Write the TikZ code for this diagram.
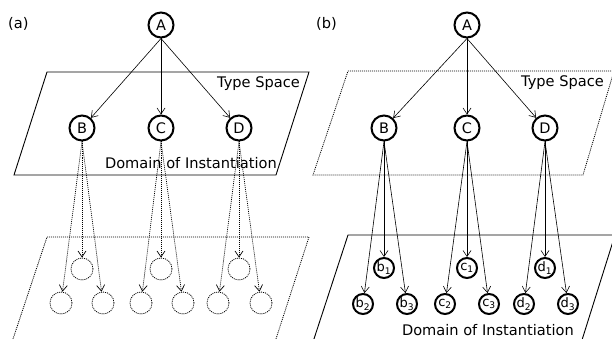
\documentclass[tikz,border=0pt]{standalone}
\usepackage{fontspec}
\setmainfont{DejaVu Sans}
\usetikzlibrary{arrows.meta}
\tikzset{
  bignode/.style={circle,draw,line width=2pt,minimum size=25pt,inner sep=0pt,font=\fontsize{14.5}{14.5}\selectfont},
  smallnode/.style={circle,draw,line width=2pt,minimum size=20pt,inner sep=0pt,font=\fontsize{13}{13}\selectfont},
  densedot/.style={dash pattern=on 1pt off 1pt},
  ghost/.style={circle,draw,densedot,line width=0.8pt,minimum size=22pt,inner sep=0pt},
  arr/.style={-{Straight Barb[length=6pt,width=8pt]},line width=0.6pt},
  dotarr/.style={arr,densedot,line width=0.7pt},
  plane/.style={line width=0.9pt,line join=miter},
  dotplane/.style={line width=0.8pt,densedot},
  lab/.style={font=\fontsize{14.6}{15}\selectfont,inner sep=0pt},
}
\begin{document}
\begin{tikzpicture}[x=1pt,y=-1pt]
\useasboundingbox (0,0) rectangle (612,339);
\clip (0,0) rectangle (612,339);
% ---------- panel (a) ----------
\node[lab,anchor=base west] (la) at (8,29) {(a)};
\draw[plane] (47,72) -- (309,72) -- (276,175) -- (14,175) -- cycle;
\draw[dotplane] (11,345) -- (47,237) -- (309,237) -- (274,345);
\node[lab,anchor=base east] (tsa) at (300,88) {Type Space};
\node[lab,anchor=base east] (dia) at (277,168) {Domain of Instantiation};
\node[bignode] (A) at (161,25) {A};
\node[bignode] (B) at (82,128) {B};
\node[bignode] (C) at (161,128) {C};
\node[bignode] (D) at (239,128) {D};
\foreach \t in {B,C,D} \draw[arr] (A.south) -- (\t);
\node[ghost] (gb1) at (82,269) {};
\node[ghost] (gc1) at (161,269) {};
\node[ghost] (gd1) at (239,269) {};
\node[ghost] (gb2) at (61,303) {};
\node[ghost] (gb3) at (103,303) {};
\node[ghost] (gc2) at (141,303) {};
\node[ghost] (gc3) at (183,303) {};
\node[ghost] (gd2) at (218,303) {};
\node[ghost] (gd3) at (261,303) {};
\foreach \s/\k in {B/b,C/c,D/d}{
  \foreach \i in {1,2,3} \draw[dotarr] (\s.south) -- (g\k\i);
}
% ---------- panel (b) ----------
\node[lab,anchor=base west] (lb) at (316,29) {(b)};
\draw[dotplane] (348,71) -- (614,71) -- (583,175) -- (313,175) -- cycle;
\draw[plane] (312,345) -- (348,235) -- (615,235) -- (582,340) -- (540,340);
\node[lab,anchor=base east] (tsb) at (604,87) {Type Space};
\node[lab,anchor=base east] (dib) at (574,335) {Domain of Instantiation};
\node[bignode] (A2) at (467,25) {A};
\node[bignode] (B2) at (384,128) {B};
\node[bignode] (C2) at (467,128) {C};
\node[bignode] (D2) at (545,128) {D};
\foreach \t in {B2,C2,D2} \draw[arr] (A2.south) -- (\t);
\node[smallnode] (b1) at (384,268) {b\textsubscript{1}};
\node[smallnode] (c1) at (467,268) {c\textsubscript{1}};
\node[smallnode] (d1) at (545,268) {d\textsubscript{1}};
\node[smallnode] (b2) at (363,304) {b\textsubscript{2}};
\node[smallnode] (b3) at (407,304) {b\textsubscript{3}};
\node[smallnode] (c2) at (445,304) {c\textsubscript{2}};
\node[smallnode] (c3) at (489,304) {c\textsubscript{3}};
\node[smallnode] (d2) at (524,304) {d\textsubscript{2}};
\node[smallnode] (d3) at (568,304) {d\textsubscript{3}};
\foreach \s/\k in {B2/b,C2/c,D2/d}{
  \foreach \i in {1,2,3} \draw[arr] (\s.south) -- (\k\i);
}
\end{tikzpicture}
\end{document}
